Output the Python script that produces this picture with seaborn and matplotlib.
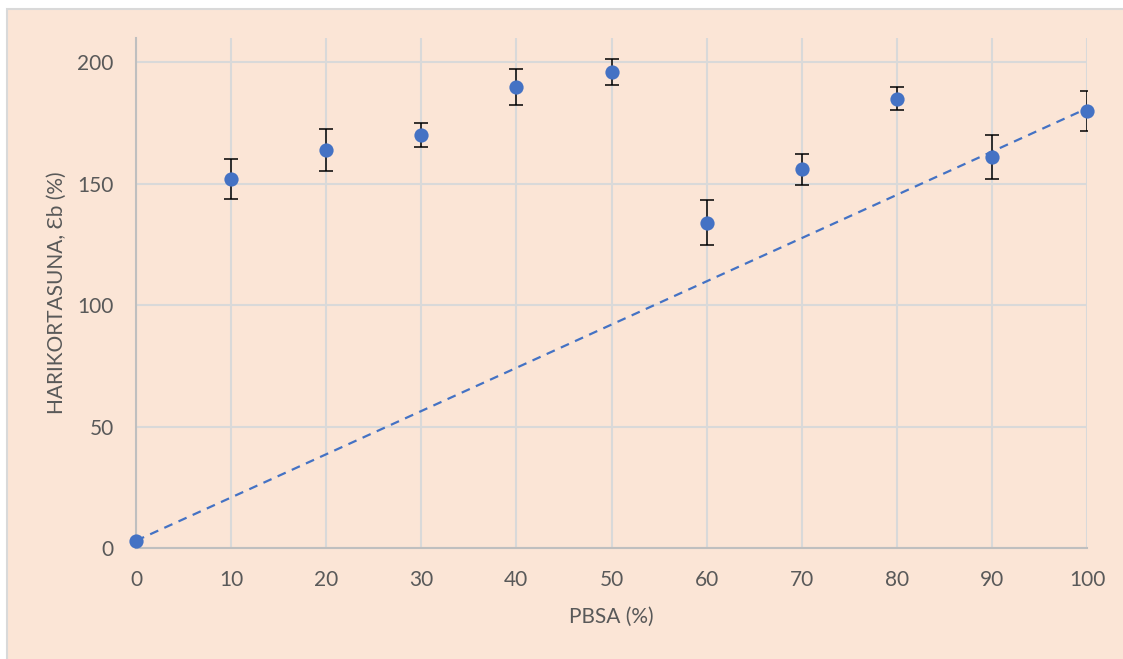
import matplotlib
matplotlib.use("Agg")
import matplotlib.pyplot as plt
import seaborn as sns
import pandas as pd
from matplotlib.patches import Rectangle

# ---- data ----
pbsa = [0, 10, 20, 30, 40, 50, 60, 70, 80, 90, 100]
elong = [3, 152, 164, 170, 190, 196, 134, 156, 185, 161, 180]
err = [0, 8.2, 8.6, 4.8, 7.4, 5.3, 9.1, 6.4, 4.8, 9.2, 8.3]
ideal_x = [0, 100]
ideal_y = [3, 181]
xticks = [0, 10, 20, 30, 40, 50, 60, 70, 80, 90, 100]
yticks = [0, 50, 100, 150, 200]
xlabel = "PBSA (%)"
ylabel = "HARIKORTASUNA, Ɛb (%)"

sns.set_theme(style="white")
plt.rcParams['font.family'] = ['Lato', 'DejaVu Sans']

W, H = 1123, 659
fig = plt.figure(figsize=(W / 100, H / 100), dpi=100)
fig.patch.set_facecolor("white")
peach = "#FBE5D6"
bg = Rectangle((7 / W, -0.01), 1.02, 1 - 9 / H + 0.01, transform=fig.transFigure,
               facecolor=peach, edgecolor="#D9D9D9", linewidth=1.5, zorder=-10)
fig.add_artist(bg)

ax = fig.add_axes([136 / W, 1 - 548 / H, (1087 - 136) / W, (548 - 38) / H])
ax.set_zorder(1)
ax.patch.set_alpha(0)

df = pd.DataFrame({"x": pbsa, "y": elong})
line_df = pd.DataFrame({"x": ideal_x, "y": ideal_y})

blue = "#4472C4"
sns.lineplot(data=line_df, x="x", y="y", ax=ax, color=blue, linewidth=1.6,
             dashes=False, zorder=3)
ax.lines[-1].set_linestyle((0, (4, 3)))
ax.errorbar(pbsa, elong, yerr=err, fmt="none", ecolor="black", elinewidth=1.1,
            capsize=4.8, capthick=1.1, zorder=4)
sns.scatterplot(data=df, x="x", y="y", ax=ax, color=blue, s=105, edgecolor=blue,
                linewidth=0, zorder=5, clip_on=False)

ax.set_xlim(0, 100)
ax.set_ylim(0, 210)
ax.set_xticks(xticks)
ax.set_yticks(yticks)
ax.grid(True, color="#D9D9D9", linewidth=1.5)
ax.set_axisbelow(True)
for s in ["top", "right"]:
    ax.spines[s].set_visible(False)
for s in ["left", "bottom"]:
    ax.spines[s].set_color("#BFBFBF")
    ax.spines[s].set_linewidth(1.5)

ax.tick_params(axis="both", length=0, labelsize=15, labelcolor="#595959")
ax.tick_params(axis="x", pad=16)
ax.tick_params(axis="y", pad=16)

ax.set_xlabel(xlabel, fontsize=15, color="#595959", va="center")
ax.set_ylabel(ylabel, fontsize=15, color="#595959", va="center")
ax.xaxis.set_label_coords(0.5, (548 - 617) / (548 - 38))
ax.yaxis.set_label_coords((57 - 136) / (1087 - 136), 0.5)

fig.savefig("out.png", dpi=100)
